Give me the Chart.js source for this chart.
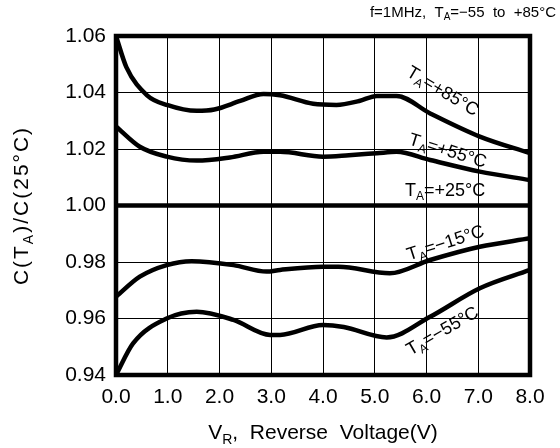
<!DOCTYPE html>
<html>
<head>
<meta charset="utf-8">
<script src="https://cdn.jsdelivr.net/npm/chart.js@4/dist/chart.umd.min.js"></script>
<style>
  html, body { margin: 0; padding: 0; background: #fff; }
  #wrap { width: 560px; height: 448px; }
</style>
</head>
<body>
<div id="wrap"><canvas id="capChart"></canvas></div>
<script>
// C(TA)/C(25°C) vs reverse voltage
const xTicks = [0, 1, 2, 3, 4, 5, 6, 7, 8];
const yTicks = [0.94, 0.96, 0.98, 1.00, 1.02, 1.04, 1.06];

const vr85 = [0, 0.2, 0.6, 1.0, 1.56, 1.9, 2.4, 2.85, 3.17, 3.81, 4.26, 4.7, 5.04, 5.42, 6.07, 7.03, 8];
const c85 = [1.060, 1.049, 1.039, 1.0355, 1.0335, 1.034, 1.037, 1.0395, 1.039, 1.036, 1.0356, 1.037, 1.0388, 1.0388, 1.0326, 1.0244, 1.0185];

const vr55 = [0, 0.46, 0.98, 1.56, 2.2, 2.85, 3.17, 4.0, 4.5, 5.04, 5.42, 6.07, 7.03, 8];
const c55 = [1.028, 1.0208, 1.0173, 1.0159, 1.017, 1.019, 1.019, 1.0173, 1.0178, 1.0185, 1.019, 1.0161, 1.012, 1.009];

const vr25 = [0, 8];
const c25 = [1.00, 1.00];

const vrM15 = [0, 0.46, 0.98, 1.46, 2.27, 2.91, 3.17, 4.0, 4.3, 5.29, 6.07, 7.03, 8];
const cM15 = [0.9677, 0.9748, 0.9789, 0.9803, 0.9789, 0.9766, 0.9772, 0.9783, 0.9783, 0.976, 0.9807, 0.9854, 0.9884];

const vrM55 = [0, 0.33, 0.98, 1.56, 2.27, 2.98, 3.17, 4.0, 4.4, 5.23, 6.07, 7.03, 8];
const cM55 = [0.940, 0.9512, 0.960, 0.9624, 0.9595, 0.9542, 0.9542, 0.9577, 0.957, 0.9533, 0.9606, 0.9707, 0.9772];

// curve labels: temperature text, anchor in data units, rotation in degrees
const labelTemps = ['+85°C', '+55°C', '+25°C', '\u221215°C', '\u221255°C'];
const labelX = [6.26, 6.38, 6.36, 6.40, 6.36];
const labelY = [1.0388, 1.0175, 1.0034, 0.9849, 0.9539];
const labelAngle = [31, 17, 0, -18, -30];

const FONT = '"Liberation Sans", Arial, sans-serif';

const toPoints = (xs, ys) => xs.map((x, i) => ({ x: x, y: ys[i] }));

const curve = (xs, ys) => ({
    data: toPoints(xs, ys),
    borderColor: '#000',
    borderWidth: 4.5,
    pointRadius: 0,
    cubicInterpolationMode: 'monotone',
    fill: false
});

// draw text made of [string, isSubscript] parts around 0,0
function drawParts(ctx, parts, size, align) {
    const subSize = Math.round(size * 0.66);
    let total = 0;
    parts.forEach(p => {
        ctx.font = (p[1] ? subSize : size) + 'px ' + FONT;
        total += ctx.measureText(p[0]).width;
    });
    let x = align === 'right' ? -total : (align === 'left' ? 0 : -total / 2);
    parts.forEach(p => {
        ctx.font = (p[1] ? subSize : size) + 'px ' + FONT;
        ctx.fillText(p[0], x, p[1] ? size * 0.22 : 0);
        x += ctx.measureText(p[0]).width;
    });
}

const annotations = {
    id: 'annotations',
    afterDraw(chart) {
        const ctx = chart.ctx;
        const area = chart.chartArea;
        const xs = chart.scales.x;
        const ys = chart.scales.y;
        ctx.save();
        // heavy frame
        ctx.strokeStyle = '#000';
        ctx.lineWidth = 4.5;
        ctx.strokeRect(area.left, area.top, area.right - area.left, area.bottom - area.top);

        ctx.fillStyle = '#000';
        ctx.textBaseline = 'alphabetic';

        // curve labels
        labelTemps.forEach((t, i) => {
            ctx.save();
            ctx.translate(xs.getPixelForValue(labelX[i]), ys.getPixelForValue(labelY[i]));
            ctx.rotate(labelAngle[i] * Math.PI / 180);
            drawParts(ctx, [['T', false], ['A', true], ['=' + t, false]], 18, 'center');
            ctx.restore();
        });

        // condition note, top right
        ctx.save();
        ctx.translate(556, 17);
        drawParts(ctx, [['f=1MHz,  T', false], ['A', true], ['=\u221255  to  +85°C', false]], 15, 'right');
        ctx.restore();

        // x axis title
        ctx.save();
        ctx.translate((area.left + area.right) / 2, 439);
        drawParts(ctx, [['V', false], ['R', true], [',  Reverse  Voltage(V)', false]], 21, 'center');
        ctx.restore();

        // y axis title
        ctx.save();
        ctx.translate(28, (area.top + area.bottom) / 2);
        ctx.rotate(-Math.PI / 2);
        ctx.letterSpacing = '2px';
        drawParts(ctx, [['C(T', false], ['A', true], [')/C(25°C)', false]], 21, 'center');
        ctx.restore();

        ctx.restore();
    }
};

new Chart(document.getElementById('capChart'), {
    type: 'line',
    data: {
        datasets: [
            curve(vr85, c85),
            curve(vr55, c55),
            curve(vr25, c25),
            curve(vrM15, cM15),
            curve(vrM55, cM55)
        ]
    },
    options: {
        responsive: true,
        maintainAspectRatio: false,
        animation: false,
        devicePixelRatio: 1,
        layout: { padding: { top: 36, right: 30, left: 0, bottom: 0 } },
        plugins: {
            legend: { display: false },
            tooltip: { enabled: false }
        },
        scales: {
            x: {
                type: 'linear',
                min: 0,
                max: 8,
                afterFit: s => { s.height = 73; },
                afterBuildTicks: s => { s.ticks = xTicks.map(v => ({ value: v })); },
                grid: { color: '#000', lineWidth: 1, drawTicks: false },
                border: { display: false },
                ticks: {
                    color: '#000',
                    padding: 10,
                    font: { family: FONT, size: 21 },
                    callback: v => v.toFixed(1)
                }
            },
            y: {
                min: 0.94,
                max: 1.06,
                afterFit: s => { s.width = 116; },
                afterBuildTicks: s => { s.ticks = yTicks.map(v => ({ value: v })); },
                grid: { color: '#000', lineWidth: 1, drawTicks: false },
                border: { display: false },
                ticks: {
                    color: '#000',
                    padding: 10,
                    font: { family: FONT, size: 21 },
                    callback: v => v.toFixed(2)
                }
            }
        }
    },
    plugins: [annotations]
});
</script>
</body>
</html>
